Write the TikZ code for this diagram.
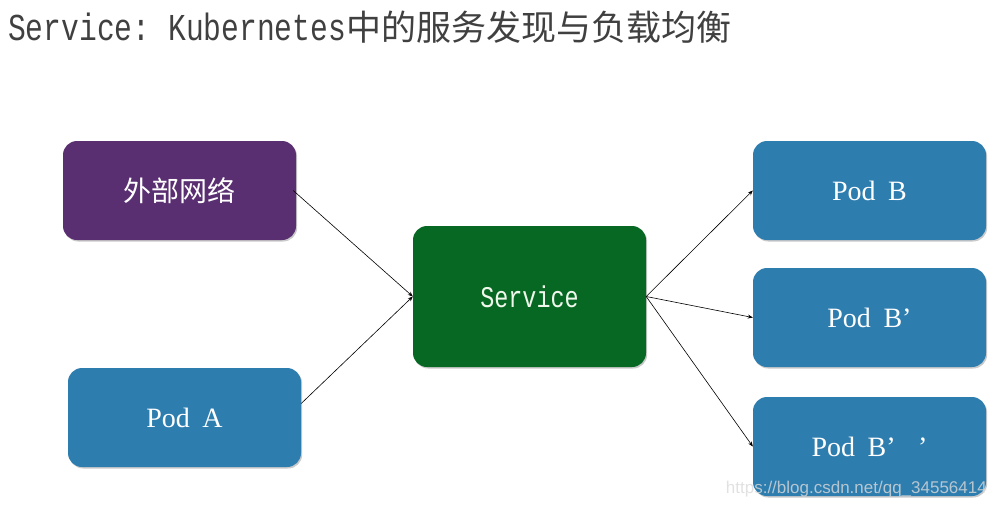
\documentclass[tikz,border=0pt]{standalone}
\usepackage{fontspec}
\setmainfont{Liberation Serif}
\newfontfamily\cjk{Noto Sans CJK SC}
\newfontfamily\monof[FakeStretch=0.78]{Liberation Mono}
\newfontfamily\wmfont{Liberation Sans}
\usetikzlibrary{arrows.meta,shadows}
\definecolor{titlegray}{HTML}{404040}
\definecolor{purplebox}{HTML}{5A2F72}
\definecolor{bluebox}{HTML}{2E7DAF}
\definecolor{greenbox}{HTML}{066823}
\definecolor{svctext}{HTML}{F0F8EC}
\tikzset{
  box/.style={rectangle, rounded corners=14pt, minimum width=233pt, minimum height=99pt,
    inner sep=0pt, draw=none,
    drop shadow={shadow xshift=1.2pt, shadow yshift=-1.5pt, opacity=0.35, fill=black!60}},
  podbox/.style={box, fill=bluebox, text=white, font=\fontsize{28}{30}\selectfont},
  conn/.style={-{Stealth[length=5pt,width=4pt]}, line width=0.6pt, black},
}
\begin{document}
\begin{tikzpicture}[x=1pt,y=-1pt]
\useasboundingbox (0,0) rectangle (997,507);
\node[anchor=base west, inner sep=0pt, text=titlegray] (title) at (8,40)
  {{\monof\fontsize{38}{40}\selectfont Service:\ Kubernetes}{\cjk\fontsize{35}{40}\selectfont 中的服务发现与负载均衡}};
\node[box, fill=purplebox, text=white, font=\cjk\fontsize{28}{30}\selectfont] (ext) at (179.5,190.5) {外部网络};
\node[podbox] (poda) at (184.5,417.5) {\raisebox{-4pt}{Pod\hspace{0.45em}A}};
\node[box, fill=greenbox, minimum height=141pt, text=svctext, font=\monof\fontsize{30}{32}\selectfont] (svc) at (529.5,296.5) {\raisebox{-4pt}{Service}};
\node[podbox] (podb) at (869.5,190.5) {\raisebox{-4pt}{Pod\hspace{0.45em}B}};
\node[podbox] (podb1) at (869.5,317.5) {\raisebox{-4pt}{Pod\hspace{0.45em}B’}};
\node[podbox] (podb2) at (869.5,446.5) {\raisebox{-4pt}{Pod\hspace{0.45em}B’\hspace{0.8em}’}};
\draw[conn] ([xshift=-3pt]ext.east) -- (svc.west);
\draw[conn] ([yshift=14pt]poda.east) -- (svc.west);
\draw[conn] (svc.east) -- (podb.west);
\draw[conn] (svc.east) -- (podb1.west);
\draw[conn] (svc.east) -- (podb2.west);
\node[anchor=base east, inner sep=0pt, text=gray!30, opacity=0.8, font=\wmfont\fontsize{17}{18}\selectfont] (wm) at (987,493) {https://blog.csdn.net/qq\_34556414};
\end{tikzpicture}
\end{document}
